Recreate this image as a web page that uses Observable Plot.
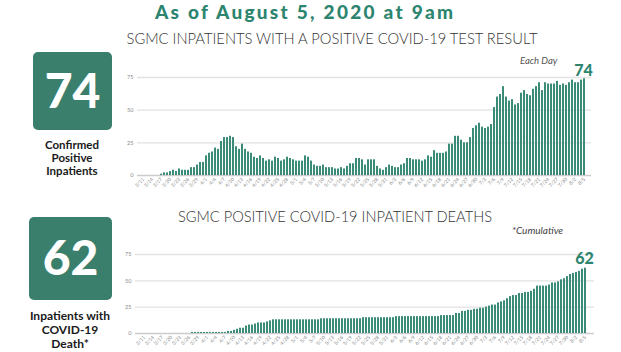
<!DOCTYPE html>
<html><head><meta charset="utf-8">
<script src="https://cdn.jsdelivr.net/npm/d3@7"></script>
<script src="https://cdn.jsdelivr.net/npm/@observablehq/plot@0.6"></script>
<style>
html,body{margin:0;padding:0;background:#fff;}
#page{position:relative;width:621px;height:352px;overflow:hidden;font-family:Lato,sans-serif;background:#fff;}
#page > svg{position:absolute;}
</style></head><body><div id="page"></div>
<script>
// ---- data ----
const startDay = "2020-03-11";
const endDay = "2020-08-05";
const tickLabels = ["3/11","3/14","3/17","3/20","3/23","3/26","3/29","4/1","4/4","4/7","4/10","4/13","4/16","4/19","4/22","4/25","4/28","5/1","5/4","5/7","5/10","5/13","5/16","5/19","5/22","5/25","5/28","5/31","6/3","6/6","6/9","6/12","6/15","6/18","6/21","6/24","6/27","6/30","7/3","7/6","7/9","7/12","7/15","7/18","7/21","7/24","7/27","7/30","8/2","8/5"];
const inpatients = [0,0,0,0,0,0,
  1,2,2,3,4,3,5,4,4,4,
  6,6,8,10,10,15,17,18,21,20,
  26,29,29,30,29,22,20,24,20,18,
  17,14,13,15,13,11,12,11,14,13,
  11,12,14,13,12,11,11,11,15,14,
  11,8,7,7,8,6,6,6,5,5,
  6,5,7,9,9,13,13,12,8,12,
  12,12,7,5,4,6,8,7,6,6,
  8,9,13,13,12,12,12,11,12,15,
  14,19,17,17,17,18,24,24,30,30,
  27,25,25,29,36,38,40,37,36,37,
  39,52,60,62,68,60,57,58,54,55,
  63,65,62,61,66,68,71,65,71,70,
  70,70,72,69,70,69,71,73,71,71,73,74];
const deaths = [0,0,0,0,0,0,0,0,0,0,0,0,0,0,0,0,
  1,1,1,1,1,1,1,1,1,1,1,
  1,2,2,3,4,5,5,7,8,8,9,10,10,10,11,12,
  13,13,13,13,13,13,13,13,13,13,13,13,13,13,13,13,
  14,14,14,14,14,14,14,14,14,14,14,14,14,14,
  15,15,15,15,15,15,15,15,15,15,15,
  16,16,16,16,16,16,16,16,16,16,16,16,16,16,16,
  17,17,17,17,17,
  19,19,21,21,22,22,23,23,24,24,25,26,27,27,29,30,31,33,35,36,36,
  38,38,39,39,40,42,45,45,45,45,46,48,48,49,51,52,54,56,57,58,59,61,62];
const yTicks = [0,25,50,75];

const days = d3.utcDay.range(new Date(startDay), d3.utcDay.offset(new Date(endDay), 1));
const dayLabels = days.map(d3.utcFormat("%-m/%-d"));
const rows1 = dayLabels.map((d, i) => ({day: d, value: inpatients[i]}));
const rows2 = dayLabels.map((d, i) => ({day: d, value: deaths[i]}));

const TEAL = "#3a8b77";
const LABEL = "#2d8570";

function barChart(rows, opts) {
  return Plot.plot({
    width: 621, height: opts.height,
    marginLeft: opts.ml, marginRight: opts.mr, marginTop: opts.mt, marginBottom: opts.mb,
    style: {fontFamily: "Lato, sans-serif", background: "transparent", overflow: "visible"},
    x: {domain: dayLabels, padding: 0.2},
    y: {domain: [0, 75]},
    marks: [
      Plot.gridY(yTicks.slice(1), {stroke: "#e2e2e2", strokeOpacity: 1, strokeWidth: 1.3}),
      Plot.ruleY([0], {stroke: "#cccccc", strokeWidth: 1.5}),
      Plot.barY(rows, {x: "day", y: "value", fill: TEAL}),
      Plot.axisX(tickLabels, {tickRotate: -45, tickSize: 0, tickPadding: 3, fontSize: 5, fill: "#8a8a8a", label: null}),
      Plot.axisY(yTicks, {tickSize: 0, tickPadding: 4, fontSize: 5.5, fill: "#8a8a8a", label: null}),
      Plot.text([rows[rows.length - 1]], {x: "day", y: "value", text: d => String(d.value),
        lineAnchor: "bottom", dy: opts.ldy, dx: -1, fontSize: 16, fontWeight: 900, fill: LABEL})
    ]
  });
}

const page = document.getElementById("page");
const c1 = barChart(rows1, {height: 140, ml: 137, mr: 30, mt: 22, mb: 20, ldy: -3});
c1.style.left = "0px"; c1.style.top = "55px";
page.appendChild(c1);
const c2 = barChart(rows2, {height: 114, ml: 135, mr: 27, mt: 16, mb: 19, ldy: -4});
c2.style.left = "0px"; c2.style.top = "238px";
page.appendChild(c2);

// ---- overlay texts & boxes ----
const NS = "http://www.w3.org/2000/svg";
const ov = document.createElementNS(NS, "svg");
ov.setAttribute("width", 621); ov.setAttribute("height", 352);
ov.style.left = "0px"; ov.style.top = "0px"; ov.style.pointerEvents = "none";
page.appendChild(ov);
function txt(s, a) {
  const t = document.createElementNS(NS, "text");
  t.textContent = s;
  for (const k in a) t.setAttribute(k, a[k]);
  ov.appendChild(t);
  return t;
}
function rect(a) {
  const r = document.createElementNS(NS, "rect");
  for (const k in a) r.setAttribute(k, a[k]);
  ov.appendChild(r);
}
const FF = "Lato, sans-serif";
txt("As of August 5, 2020 at 9am", {x: 304, y: 18.5, "text-anchor": "middle", "font-family": FF, "font-weight": 900, "font-size": 19, fill: LABEL, textLength: 298, lengthAdjust: "spacing"});
txt("SGMC INPATIENTS WITH A POSITIVE COVID-19 TEST RESULT", {x: 332, y: 44, "text-anchor": "middle", "font-family": FF, "font-weight": 300, "font-size": 15.5, fill: "#333", textLength: 411, lengthAdjust: "spacingAndGlyphs"});
txt("SGMC POSITIVE COVID-19 INPATIENT DEATHS", {x: 335, y: 222, "text-anchor": "middle", "font-family": FF, "font-weight": 300, "font-size": 16, fill: "#333", textLength: 314, lengthAdjust: "spacingAndGlyphs"});
txt("Each Day", {x: 520, y: 64, "font-family": FF, "font-style": "italic", "font-size": 9.5, fill: "#555"});
txt("*Cumulative", {x: 512, y: 234, "font-family": FF, "font-style": "italic", "font-size": 10, fill: "#444"});

rect({x: 33, y: 52, width: 79, height: 78, rx: 5, fill: "#3a7e6c"});
txt("74", {x: 72.5, y: 108, "text-anchor": "middle", "font-family": FF, "font-weight": 900, "font-size": 48, fill: "#fff"});
[["Confirmed", 149], ["Positive", 162], ["Inpatients", 175]].forEach(([s, y]) =>
  txt(s, {x: 72, y, "text-anchor": "middle", "font-family": FF, "font-weight": 700, "font-size": 11.5, fill: "#1a1a1a"}));

rect({x: 29, y: 217, width: 83, height: 83, rx: 5, fill: "#3a7e6c"});
txt("62", {x: 70.5, y: 275, "text-anchor": "middle", "font-family": FF, "font-weight": 900, "font-size": 48, fill: "#fff"});
[["Inpatients with", 320], ["COVID-19", 334], ["Death*", 348]].forEach(([s, y]) =>
  txt(s, {x: 70, y, "text-anchor": "middle", "font-family": FF, "font-weight": 700, "font-size": 12, fill: "#1a1a1a"}));
</script>
</body></html>
